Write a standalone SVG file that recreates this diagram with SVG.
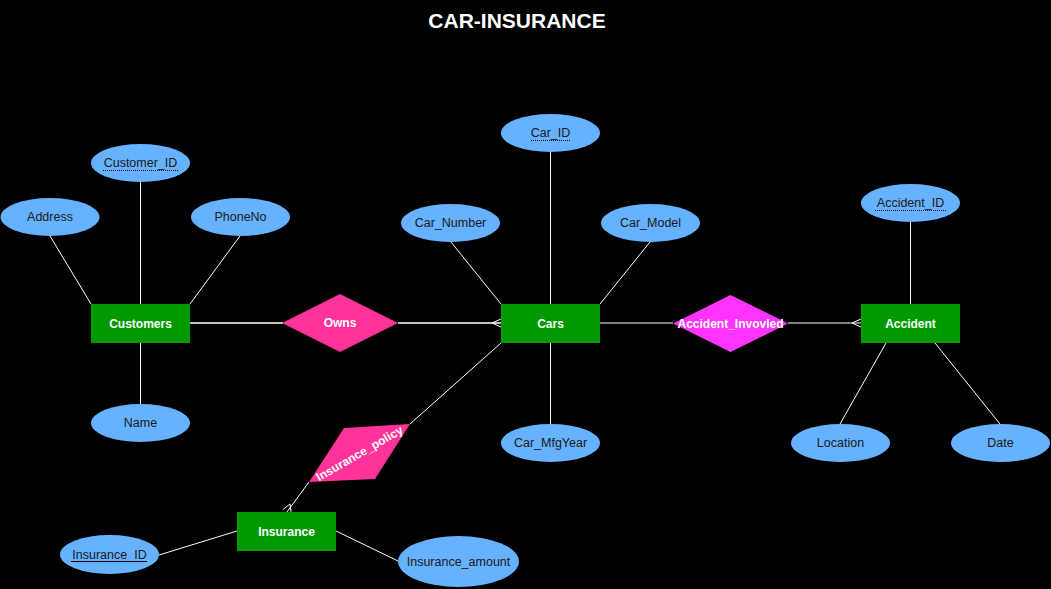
<svg xmlns="http://www.w3.org/2000/svg" width="1051" height="589" viewBox="0 0 1051 589">
<style>
.ent{fill:#009900;}
.att{fill:#66B2FF;}
.t{font-family:"Liberation Sans",Arial,sans-serif;font-size:12px;text-anchor:middle;dominant-baseline:central;}
.tw{fill:#ffffff;font-weight:bold;}
.ta{fill:#1a1a1a;font-size:12.5px;}
.ln{stroke:#ffffff;stroke-width:1;fill:none;}
.lm{stroke:#ffffff;stroke-width:1.3;fill:none;}
.u{stroke:#000;stroke-width:1;}
.ud{stroke:#000;stroke-width:1;stroke-dasharray:1 1;}
</style>
<rect x="0" y="0" width="1051" height="589" fill="#000000"/>
<text x="517" y="20" class="t" style="font-size:21px;font-weight:bold;fill:#ffffff">CAR-INSURANCE</text>
<g id="connectors">
  <line class="ln" x1="140.5" y1="182" x2="140.5" y2="404"/>
  <line class="ln" x1="50" y1="236" x2="91" y2="304"/>
  <line class="ln" x1="240" y1="236" x2="190" y2="304"/>
  <line class="lm" x1="190" y1="323" x2="283" y2="323"/>
  <line class="lm" x1="398" y1="323" x2="501" y2="323"/>
  <polyline class="ln" points="501,319 492,323 501,327"/>
  <line class="ln" x1="550.5" y1="152" x2="550.5" y2="424"/>
  <line class="ln" x1="451" y1="242" x2="501" y2="304"/>
  <line class="ln" x1="650" y1="242" x2="600" y2="304"/>
  <line class="ln" x1="600" y1="323" x2="673" y2="323"/>
  <line class="ln" x1="788" y1="323" x2="861" y2="323"/>
  <polyline class="ln" points="861,319 852,323 861,327"/>
  <line class="ln" x1="910.5" y1="222" x2="910.5" y2="304"/>
  <line class="ln" x1="840" y1="424" x2="886" y2="343"/>
  <line class="ln" x1="1000" y1="424" x2="935" y2="343"/>
  <line class="ln" x1="501" y1="343" x2="410" y2="424"/>
  <line class="ln" x1="309" y1="482" x2="287" y2="512"/>
  <polyline class="ln" points="283,509.5 290,504 291,512"/>
  <line class="ln" x1="159" y1="555" x2="237" y2="531"/>
  <line class="ln" x1="398" y1="561" x2="336" y2="531"/>
</g>
<g id="customers"><rect class="ent" x="91" y="304" width="99" height="39"/><text class="t tw" x="140.5" y="323.5">Customers</text></g>
<g id="address"><ellipse class="att" cx="50" cy="217" rx="49.5" ry="19"/><text class="t ta" x="50" y="217">Address</text></g>
<g id="phoneno"><ellipse class="att" cx="240.5" cy="217" rx="49.5" ry="19"/><text class="t ta" x="240.5" y="217">PhoneNo</text></g>
<g id="customer_id"><ellipse class="att" cx="140.5" cy="163" rx="49.5" ry="19"/><text class="t ta" x="140.5" y="163">Customer_ID</text><line class="ud" x1="103" y1="170.5" x2="178" y2="170.5"/></g>
<g id="name"><ellipse class="att" cx="140.5" cy="423" rx="49.5" ry="19"/><text class="t ta" x="140.5" y="423">Name</text></g>
<g id="owns"><polygon fill="#FF3399" points="282,323 340,294 398,323 340,352"/><text class="t tw" x="340" y="323">Owns</text></g>
<g id="cars"><rect class="ent" x="501" y="304" width="99" height="39"/><text class="t tw" x="550.5" y="323.5">Cars</text></g>
<g id="car_id"><ellipse class="att" cx="550.5" cy="133" rx="49.5" ry="19"/><text class="t ta" x="550.5" y="133">Car_ID</text><line class="ud" x1="531" y1="140.5" x2="570" y2="140.5"/></g>
<g id="car_number"><ellipse class="att" cx="450.5" cy="223" rx="49.5" ry="19"/><text class="t ta" x="450.5" y="223">Car_Number</text></g>
<g id="car_model"><ellipse class="att" cx="650.5" cy="223" rx="49.5" ry="19"/><text class="t ta" x="650.5" y="223">Car_Model</text></g>
<g id="car_mfgyear"><ellipse class="att" cx="550.5" cy="443" rx="49.5" ry="19"/><text class="t ta" x="550.5" y="443">Car_MfgYear</text></g>
<g id="accident_involved"><polygon fill="#FF33FF" points="673,323.5 730.5,295 788,323.5 730.5,352"/><text class="t tw" x="730.5" y="323.5">Accident_Invovled</text></g>
<g id="accident"><rect class="ent" x="861" y="304" width="99" height="39"/><text class="t tw" x="910.5" y="323.5">Accident</text></g>
<g id="accident_id"><ellipse class="att" cx="910.5" cy="203" rx="49.5" ry="19"/><text class="t ta" x="910.5" y="203">Accident_ID</text><line class="ud" x1="875" y1="210.5" x2="946" y2="210.5"/></g>
<g id="location"><ellipse class="att" cx="840.5" cy="443" rx="49.5" ry="19"/><text class="t ta" x="840.5" y="443">Location</text></g>
<g id="date"><ellipse class="att" cx="1000.5" cy="443" rx="49.5" ry="19"/><text class="t ta" x="1000.5" y="443">Date</text></g>
<g id="insurance_policy"><polygon fill="#FF3399" points="344,428 410,424 375,479 309,482"/><text class="t tw" x="359.5" y="453.5" transform="rotate(-30 359.5 453.5)">Insurance_policy</text></g>
<g id="insurance"><rect class="ent" x="237" y="512" width="99" height="39"/><text class="t tw" x="286.5" y="531.5">Insurance</text></g>
<g id="insurance_id"><ellipse class="att" cx="109.5" cy="554.5" rx="49.5" ry="19.5"/><text class="t ta" x="109.5" y="554.5">Insurance_ID</text><line class="u" x1="71" y1="561.5" x2="147" y2="561.5"/></g>
<g id="insurance_amount"><ellipse class="att" cx="458.5" cy="561.5" rx="60.5" ry="25.5"/><text class="t ta" x="458.5" y="561.5">Insurance_amount</text></g>
</svg>
